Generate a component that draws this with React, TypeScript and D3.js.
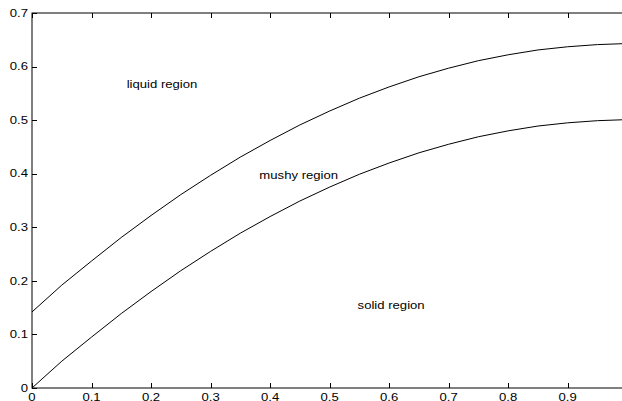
import React, { useRef, useEffect } from "react";
import * as d3 from "d3";

// position along the domain
const xValues = [
  0, 0.05, 0.1, 0.15, 0.2, 0.25, 0.3, 0.35, 0.4, 0.45, 0.5, 0.55, 0.6, 0.65,
  0.7, 0.75, 0.8, 0.85, 0.9, 0.95, 1,
];
// upper boundary (liquid / mushy)
const liquidusValues = [
  0.142, 0.192, 0.237, 0.281, 0.322, 0.361, 0.397, 0.431, 0.462, 0.491, 0.517,
  0.541, 0.562, 0.581, 0.597, 0.611, 0.622, 0.631, 0.637, 0.641, 0.643,
];
// lower boundary (mushy / solid)
const solidusValues = [
  0, 0.05, 0.095, 0.139, 0.18, 0.219, 0.255, 0.289, 0.32, 0.349, 0.375, 0.399,
  0.42, 0.439, 0.455, 0.469, 0.48, 0.489, 0.495, 0.499, 0.501,
];
const xTickValues = [0, 0.1, 0.2, 0.3, 0.4, 0.5, 0.6, 0.7, 0.8, 0.9];
const yTickValues = [0, 0.1, 0.2, 0.3, 0.4, 0.5, 0.6, 0.7];
const regionNames = ["liquid region", "mushy region", "solid region"];
const regionX = [0.159, 0.382, 0.547];
const regionY = [0.56, 0.39, 0.1475];

const width = 622;
const height = 401;
const left = 32;
const top = 13;
const plotRight = 627.2;
const plotBottom = 388;
const font = "'Liberation Sans', Arial, Helvetica, sans-serif";
const fontSize = 10.5;
const stretch = 1.25;

const App = () => {
  const svgRef = useRef<SVGSVGElement | null>(null);

  useEffect(() => {
    if (!svgRef.current) return;
    const svg = d3.select(svgRef.current);
    svg.selectAll("*").remove();

    const x = d3.scaleLinear().domain([0, 1]).range([left, plotRight]);
    const y = d3.scaleLinear().domain([0, 0.7]).range([plotBottom, top]);

    // frame
    svg
      .append("rect")
      .attr("x", left)
      .attr("y", top)
      .attr("width", plotRight - left)
      .attr("height", plotBottom - top)
      .attr("fill", "none")
      .attr("stroke", "black")
      .attr("stroke-width", 1);

    const tickLen = 5;
    const ticks = svg.append("g").attr("stroke", "black").attr("stroke-width", 1);

    // ticks on bottom and top, pointing inward
    xTickValues.forEach((v) => {
      const px = Math.round(x(v)) + 0.5;
      ticks.append("line").attr("x1", px).attr("x2", px).attr("y1", plotBottom).attr("y2", plotBottom - tickLen);
      ticks.append("line").attr("x1", px).attr("x2", px).attr("y1", top).attr("y2", top + tickLen);
    });
    // ticks on left and right
    yTickValues.forEach((v) => {
      const py = Math.round(y(v)) + 0.5;
      ticks.append("line").attr("x1", left).attr("x2", left + tickLen).attr("y1", py).attr("y2", py);
      ticks.append("line").attr("x1", plotRight).attr("x2", plotRight - tickLen).attr("y1", py).attr("y2", py);
    });

    const addText = (str: string, tx: number, ty: number, anchor: string) => {
      svg
        .append("text")
        .attr("transform", `translate(${tx},${ty}) scale(${stretch},1)`)
        .attr("text-anchor", anchor)
        .attr("font-family", font)
        .attr("font-size", fontSize)
        .attr("fill", "black")
        .text(str);
    };

    xTickValues.forEach((v) => addText(d3.format("~g")(v), x(v), 400.5, "middle"));
    yTickValues.forEach((v) => addText(d3.format("~g")(v), 28, y(v) + 3.7, "end"));

    // boundary curves
    const line = d3
      .line<number>()
      .x((_, i) => x(xValues[i]))
      .y((d) => y(d));

    [liquidusValues, solidusValues].forEach((series) => {
      svg
        .append("path")
        .datum(series)
        .attr("d", line)
        .attr("fill", "none")
        .attr("stroke", "black")
        .attr("stroke-width", 1);
    });

    regionNames.forEach((name, i) => addText(name, x(regionX[i]), y(regionY[i]), "start"));
  }, []);

  return (
    <svg
      ref={svgRef}
      width={width}
      height={height}
      style={{ position: "absolute", left: 0, top: 0, background: "white" }}
    />
  );
};

export default App;
